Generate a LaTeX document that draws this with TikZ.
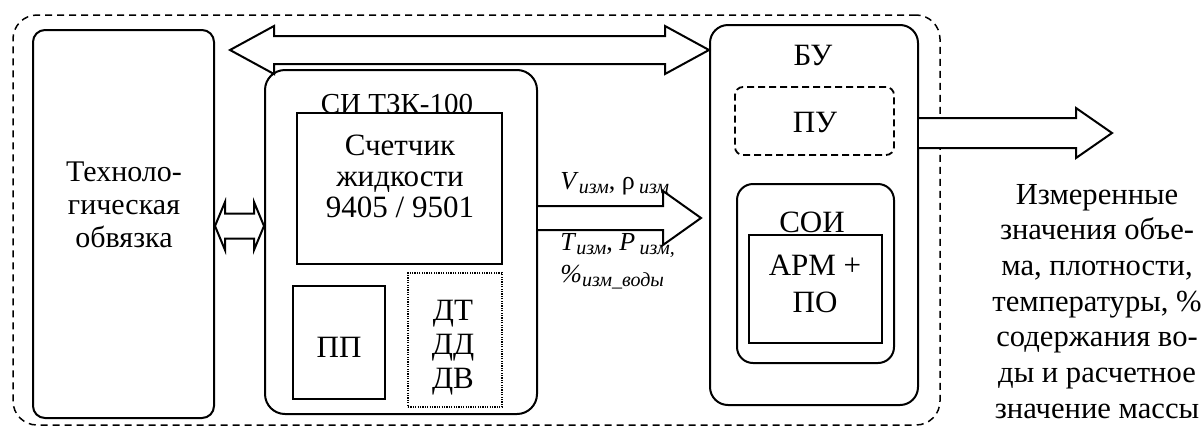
\documentclass[tikz,border=0pt]{standalone}
\usepackage{fontspec}
\setmainfont{Liberation Serif}
\usetikzlibrary{calc,fit}
\newcommand{\lns}[1]{\begin{tabular}[t]{@{}c@{}}#1\end{tabular}}
\newcommand{\sbs}[1]{\raisebox{-0.4ex}{\fontsize{10}{11}\selectfont\itshape #1}}
\newcommand{\dblarrow}[5]{%
  \draw[blk] (#1) -- ($(#1)+(#5,-#4)$) -- ($(#1)+(#5,-#3)$) -- ($(#2)+(-#5,-#3)$) -- ($(#2)+(-#5,-#4)$) -- (#2)
    -- ($(#2)+(-#5,#4)$) -- ($(#2)+(-#5,#3)$) -- ($(#1)+(#5,#3)$) -- ($(#1)+(#5,#4)$) -- cycle;}
\newcommand{\sglarrow}[5]{%
  \draw[blk] ($(#1)+(0,-#3)$) -- ($(#2)+(-#5,-#3)$) -- ($(#2)+(-#5,-#4)$) -- (#2)
    -- ($(#2)+(-#5,#4)$) -- ($(#2)+(-#5,#3)$) -- ($(#1)+(0,#3)$);}
\begin{document}
\begin{tikzpicture}[x=0.5pt,y=-0.5pt,
  rbox/.style={draw,line width=1pt,inner sep=0pt},
  sbox/.style={draw,line width=0.9pt,inner sep=0pt},
  blk/.style={draw,line width=1pt,fill=white,line join=miter},
  txt/.style={inner sep=0pt,anchor=base,font=\fontsize{15.5}{16.5}\selectfont},
  lbl/.style={inner sep=0pt,anchor=base west,font=\fontsize{13}{14}\selectfont}]
\useasboundingbox (0,0) rectangle (1202,429);

% outer dashed boundary
\node[fit={(13,15) (940,425)}, draw, dash pattern=on 3.5pt off 2.5pt, line width=0.75pt,
      rounded corners=12pt, inner sep=0pt] (sys) {};

% boxes
\node[rbox, rounded corners=6pt, fit={(33,30) (214,418)}] (tech) {};
\node[rbox, rounded corners=10pt, fit={(265,70) (537,414)}] (si) {};
\node[sbox, fit={(297,113) (502,264)}] (cnt) {};
\node[sbox, fit={(293,286) (385,399)}] (pp) {};
\node[draw, line width=0.7pt, dash pattern=on 0.6pt off 0.6pt, inner sep=0pt, fit={(408,273) (502,407)}] (dt) {};
\node[rbox, rounded corners=9pt, fit={(710,25) (918,405)}] (bu) {};
\node[draw, line width=0.9pt, dash pattern=on 3.5pt off 2pt, rounded corners=4pt, inner sep=0pt,
      fit={(735,87) (894,155)}] (pu) {};
\node[rbox, rounded corners=8pt, fit={(737,184) (894,363)}] (soi) {};
\node[sbox, fit={(749,235) (882,343)}] (arm) {};

% texts
\node[txt, font=\fontsize{15}{16.5}\selectfont] (techT) at (124,181) {\lns{Техноло-\\гическая\\обвязка}};
\node[txt, font=\fontsize{14.5}{16}\selectfont] (siT) at (397,113) {СИ ТЗК-100};
\node[txt, font=\fontsize{15.5}{15.5}\selectfont] (cntT) at (400,155) {\lns{Счетчик\\жидкости\\9405 / 9501}};
\node[txt] (ppT) at (339,357) {ПП};
\node[txt, font=\fontsize{15.5}{17}\selectfont] (dtT) at (453,320) {\lns{ДТ\\ДД\\ДВ}};
\node[txt] (buT) at (813,65) {БУ};
\node[txt] (puT) at (815,132) {ПУ};
\node[txt] (soiT) at (812,232) {СОИ};
\node[txt, font=\fontsize{15.5}{18.5}\selectfont] (armT) at (815,275) {\lns{АРМ +\\ПО}};
\node[txt, font=\fontsize{15.3}{17.85}\selectfont] (outT) at (1097,204)
  {\lns{Измеренные\\значения объе-\\ма, плотности,\\температуры, \%\\содержания во-\\ды и расчетное\\значение массы}};

% arrow labels
\node[lbl] (l1) at (560,189) {\textit{V}\sbs{изм}, ρ\,\sbs{изм}};
\node[lbl] (l2) at (560,250) {\textit{T}\sbs{изм}, \textit{P}\,\sbs{изм,}};
\node[lbl] (l3) at (560,282) {\textit{\%}\sbs{изм\_воды}};

% connectors
\coordinate (tL) at (230,50);
\coordinate (tR) at (bu.west |- tL);
\dblarrow{tL}{tR}{14}{24}{44}

\coordinate (sy) at (0,226);
\coordinate (sL) at (tech.east |- sy);
\coordinate (sR) at (si.west |- sy);
\dblarrow{sL}{sR}{12.5}{24}{10}

\coordinate (my) at (0,218);
\coordinate (mA) at (si.east |- my);
\coordinate (mB) at (701,218);
\sglarrow{mA}{mB}{12}{27}{38}

\coordinate (oy) at (0,133);
\coordinate (oA) at (bu.east |- oy);
\coordinate (oB) at (1112,133);
\sglarrow{oA}{oB}{15}{25}{36}
\end{tikzpicture}
\end{document}
